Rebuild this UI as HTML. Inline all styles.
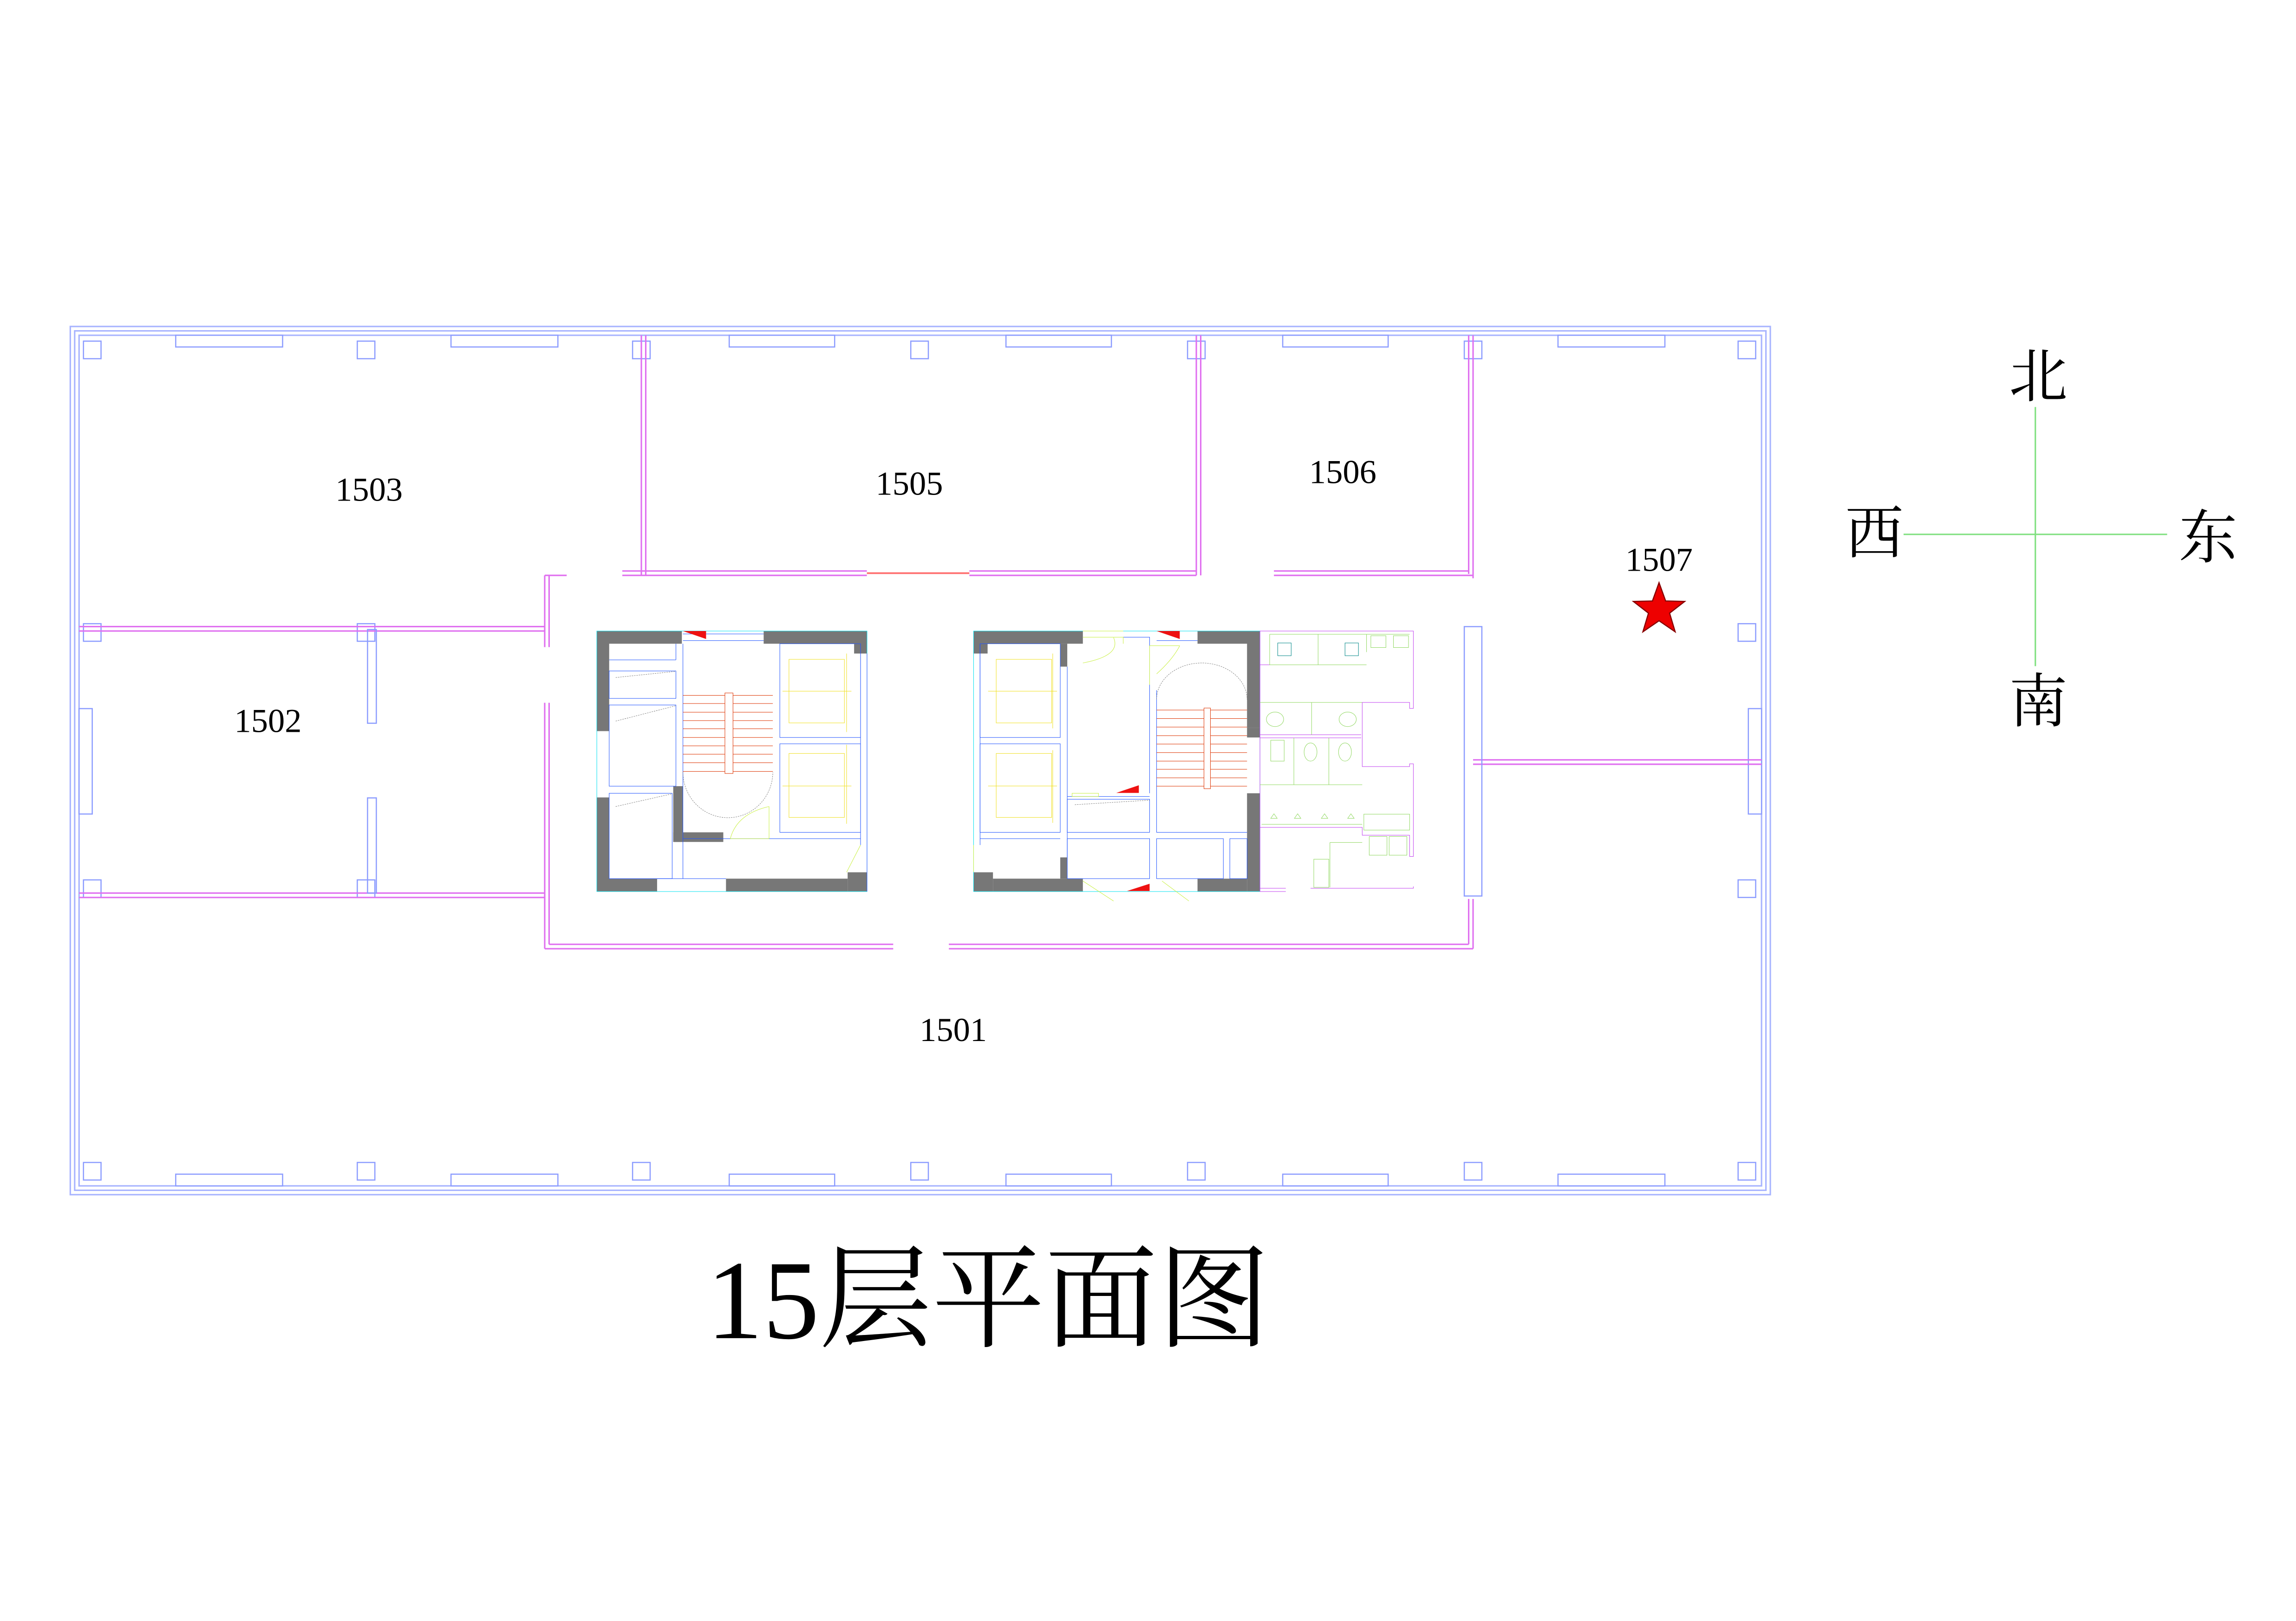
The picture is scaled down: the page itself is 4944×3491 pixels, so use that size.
<!DOCTYPE html>
<html><head><meta charset="utf-8"><style>
html,body{margin:0;padding:0;background:#fff;}
svg{display:block;}
text{font-family:"Liberation Serif","Noto Serif CJK SC",serif;fill:#000;}
</style></head><body>
<svg width="4944" height="3491" viewBox="0 0 1568 1107.2" preserveAspectRatio="none" xmlns="http://www.w3.org/2000/svg">
<rect width="1568" height="1107.2" fill="#fff"/>
<!-- outer building -->
<g fill="none" stroke="#a8b4ff" stroke-width="1">
<rect x="48" y="223" width="1161" height="593"/>
<rect x="51" y="226" width="1155" height="587"/>
<rect x="54" y="229" width="1149" height="581"/>
</g>
<!-- windows -->
<g fill="#fff" stroke="#8c9cff" stroke-width="0.8">
<rect x="120" y="229" width="73" height="8"/><rect x="308" y="229" width="73" height="8"/><rect x="498" y="229" width="72" height="8"/><rect x="687" y="229" width="72" height="8"/><rect x="876" y="229" width="72" height="8"/><rect x="1064" y="229" width="73" height="8"/>
<rect x="120" y="802" width="73" height="8"/><rect x="308" y="802" width="73" height="8"/><rect x="498" y="802" width="72" height="8"/><rect x="687" y="802" width="72" height="8"/><rect x="876" y="802" width="72" height="8"/><rect x="1064" y="802" width="73" height="8"/>
<rect x="54" y="484" width="9" height="72"/><rect x="1194" y="484" width="9" height="72"/>
</g>
<!-- columns -->
<g fill="#fff" stroke="#8c9cff" stroke-width="0.8">
<rect x="57" y="233" width="12" height="12"/><rect x="244" y="233" width="12" height="12"/><rect x="432" y="233" width="12" height="12"/><rect x="622" y="233" width="12" height="12"/><rect x="811" y="233" width="12" height="12"/><rect x="1000" y="233" width="12" height="12"/><rect x="1187" y="233" width="12" height="12"/>
<rect x="57" y="794" width="12" height="12"/><rect x="244" y="794" width="12" height="12"/><rect x="432" y="794" width="12" height="12"/><rect x="622" y="794" width="12" height="12"/><rect x="811" y="794" width="12" height="12"/><rect x="1000" y="794" width="12" height="12"/><rect x="1187" y="794" width="12" height="12"/>
<rect x="57" y="426" width="12" height="12"/><rect x="57" y="601" width="12" height="12"/><rect x="1187" y="426" width="12" height="12"/><rect x="1187" y="601" width="12" height="12"/>
<rect x="244" y="426" width="12" height="12"/><rect x="244" y="601" width="12" height="12"/>
</g>
<!-- partition walls magenta -->
<g fill="none" stroke="#e070f0" stroke-width="1">
<path d="M54 428H372M54 431H372"/>
<path d="M372 393V442M375 393V442M372 393H387"/>
<path d="M372 480V648M375 480V645"/>
<path d="M372 648H610M375 645H610"/>
<path d="M648 648H1006M648 645H1003"/>
<path d="M1006 614V648M1003 614V645"/>
<path d="M438 229V393M441 229V393"/>
<path d="M817 229V393M820 229V393"/>
<path d="M1006 229V395M1003 229V392"/>
<path d="M425 393H592M425 390H592M662 393H817M662 390H817"/>
<path d="M870 393H1006M870 390H1003"/>
<path d="M54 610H372M54 613H372"/>
<path d="M1006 519H1203M1006 522H1203"/>
</g>
<path d="M592 391.5H662" stroke="#ff7070" stroke-width="1.2"/>
<g fill="none" stroke="#8c9cff" stroke-width="0.8">
<rect x="251" y="430" width="6" height="64"/><rect x="251" y="545" width="6" height="65"/>
<rect x="1000" y="428" width="12" height="184"/>
</g>
<!-- cores -->
<g transform="translate(403.9,425.54) scale(0.3676,0.1241)">
<g fill="#777">
<rect x="10" y="44" width="158" height="70"/><rect x="10" y="44" width="23" height="551"/><rect x="10" y="960" width="23" height="518"/>
<rect x="320" y="44" width="192" height="70"/><rect x="488" y="44" width="24" height="124"/>
<rect x="10" y="1407" width="112" height="71"/><rect x="250" y="1407" width="226" height="71"/><rect x="476" y="1372" width="36" height="106"/>
<rect x="152" y="898" width="18" height="307"/><rect x="152" y="1152" width="93" height="53"/>
<rect x="710" y="44" width="203" height="70"/><rect x="710" y="44" width="26" height="124"/>
<rect x="1126" y="44" width="116" height="70"/><rect x="1218" y="44" width="24" height="534"/><rect x="1218" y="578" width="24" height="52"/><rect x="1218" y="937" width="24" height="541"/>
<rect x="710" y="1372" width="36" height="106"/><rect x="746" y="1407" width="167" height="71"/><rect x="1126" y="1407" width="92" height="71"/>
<rect x="871" y="114" width="13" height="126"/><rect x="871" y="1290" width="13" height="117"/>
</g>
<g fill="none" stroke="#00e0f0" stroke-width="1">
<rect x="10" y="44" width="502" height="1434" vector-effect="non-scaling-stroke"/>
<rect x="710" y="44" width="532" height="1434" vector-effect="non-scaling-stroke"/>
</g>
<g fill="none" stroke="#2255ff" stroke-width="1">
<rect x="350" y="114" width="150" height="516" vector-effect="non-scaling-stroke"/>
<rect x="350" y="665" width="150" height="487" vector-effect="non-scaling-stroke"/>
<rect x="33" y="264" width="124" height="151" vector-effect="non-scaling-stroke"/>
<rect x="33" y="451" width="124" height="447" vector-effect="non-scaling-stroke"/>
<rect x="33" y="937" width="117" height="470" vector-effect="non-scaling-stroke"/>
<path d="M33 203H157M157 114V203M170 1187H500M500 168V1222M512 168V1478M170 60H320M170 97H320M213 60H320M170 114V1407M122 1407H250" vector-effect="non-scaling-stroke"/>
<rect x="722" y="114" width="149" height="516" vector-effect="non-scaling-stroke"/>
<rect x="722" y="665" width="149" height="487" vector-effect="non-scaling-stroke"/>
<rect x="884" y="970" width="153" height="182" vector-effect="non-scaling-stroke"/>
<rect x="884" y="1187" width="153" height="220" vector-effect="non-scaling-stroke"/>
<rect x="1050" y="1187" width="124" height="220" vector-effect="non-scaling-stroke"/>
<rect x="1186" y="1187" width="32" height="220" vector-effect="non-scaling-stroke"/>
<path d="M722 1187H871M1050 370V1152H1218M988 78H1037V937M1050 97H1126M884 955H1037M884 240V1290M722 114V1222" vector-effect="non-scaling-stroke"/>
</g>
<g fill="none" stroke="#f0e020" stroke-width="1">
<rect x="367" y="200" width="103" height="350" vector-effect="non-scaling-stroke"/>
<rect x="367" y="718" width="103" height="352" vector-effect="non-scaling-stroke"/>
<rect x="752" y="200" width="103" height="350" vector-effect="non-scaling-stroke"/>
<rect x="752" y="718" width="103" height="352" vector-effect="non-scaling-stroke"/>
<path d="M355 375H483M355 897H483M737 375H865M737 897H865M474 168V600M474 670V1105M857 168V580M857 700V1100" vector-effect="non-scaling-stroke"/>
</g>
<g fill="none" stroke="#c8f040" stroke-width="1">
<path d="M330 1010V1187M258 1187H330M330 1010Q270 1050 258 1187M500 1222L474 1372M913 44H988M913 78H988V114M913 220Q985 180 970 80M1037 125H1093M1037 125V340M1050 280Q1080 200 1093 125M710 1370V1222M913 1420L970 1530M1060 1420L1110 1530M893 937H942V955H893Z" vector-effect="non-scaling-stroke"/>
</g>
<g stroke="#dd3300" stroke-width="1">
<path d="M170 398H337M170 443H337M170 491H337M170 537H337M170 582H337M170 630H337M170 676H337M170 722H337M170 769H337M170 817H337" vector-effect="non-scaling-stroke"/>
<path d="M1050 479H1218M1050 526H1218M1050 573H1218M1050 620H1218M1050 666H1218M1050 713H1218M1050 760H1218M1050 805H1218M1050 852H1218M1050 898H1218" vector-effect="non-scaling-stroke"/>
<rect x="248" y="385" width="15" height="443" fill="#fff" vector-effect="non-scaling-stroke"/>
<rect x="1138" y="468" width="12" height="444" fill="#fff" vector-effect="non-scaling-stroke"/>
</g>
<g fill="none" stroke="#666" stroke-width="0.8" stroke-dasharray="3 2">
<path d="M170 820A83 250 0 0 0 337 820" vector-effect="non-scaling-stroke"/>
<path d="M1050 420A84 200 0 0 1 1218 420" vector-effect="non-scaling-stroke"/>
<path d="M45 300L157 266M45 540L157 455M45 1010L150 940M898 1000L1037 975" vector-effect="non-scaling-stroke"/>
</g>
<g fill="#ee1111">
<path d="M170 44H213L213 88Z"/><path d="M1050 44H1093L1093 88Z"/><path d="M975 935L1017 893V935Z"/><path d="M995 1475L1037 1435V1475Z"/>
</g>
<g fill="none" stroke="#c040f0" stroke-width="1">
<path d="M1242 44H1527V470H1520V437H1432V790H1520V775H1527V1285H1520V1168H1432V1125H1242M1242 1460H1290M1336 1460H1527V1450M1242 44V1478H1290" vector-effect="non-scaling-stroke"/>
<path d="M1242 230H1260M1242 632H1430M1242 615H1430" vector-effect="non-scaling-stroke"/>
</g>
<g fill="none" stroke="#90d860" stroke-width="1">
<path d="M1260 62H1520M1260 62V230H1440M1350 62V230M1440 62V160M1242 437H1432M1338 437V615M1305 632V890M1370 632V890M1242 890H1432M1245 1108H1432M1435 1052H1520V1140H1435ZM1445 1175H1478V1278H1445ZM1482 1175H1515V1278H1482ZM1342 1300H1370V1455H1342ZM1372 1208H1432M1372 1208V1455" vector-effect="non-scaling-stroke"/>
<ellipse cx="1270" cy="530" rx="16" ry="40" vector-effect="non-scaling-stroke"/>
<ellipse cx="1405" cy="530" rx="16" ry="40" vector-effect="non-scaling-stroke"/>
<ellipse cx="1336" cy="710" rx="12" ry="50" vector-effect="non-scaling-stroke"/>
<ellipse cx="1400" cy="710" rx="12" ry="50" vector-effect="non-scaling-stroke"/>
<rect x="1262" y="645" width="25" height="115" vector-effect="non-scaling-stroke"/>
<rect x="1448" y="70" width="28" height="65" vector-effect="non-scaling-stroke"/>
<rect x="1490" y="70" width="28" height="65" vector-effect="non-scaling-stroke"/>
<path d="M1262 1075L1268 1050L1274 1075ZM1306 1075L1312 1050L1318 1075ZM1356 1075L1362 1050L1368 1075ZM1405 1075L1411 1050L1417 1075Z" vector-effect="non-scaling-stroke"/>
</g>
<g fill="none" stroke="#008888" stroke-width="1">
<path d="M1275 110H1300V180H1275ZM1400 110H1425V180H1400Z" vector-effect="non-scaling-stroke"/>
</g>
</g>
<!-- room labels -->
<g font-size="23" text-anchor="middle">
<text x="252" y="342">1503</text>
<text x="621" y="338">1505</text>
<text x="917" y="330">1506</text>
<text x="1133" y="390">1507</text>
<text x="183" y="500">1502</text>
<text x="651" y="711">1501</text>
</g>
<path d="M1133 398L1137.5 410.5L1150.5 410.8L1140.2 418.8L1144 431.5L1133 424L1122 431.5L1125.8 418.8L1115.5 410.8L1128.5 410.5Z" fill="#ee0000" stroke="#880000" stroke-width="0.8"/>
<g stroke="#80e080" stroke-width="1"><path d="M1390 278V455M1300 365H1480"/></g>
<g font-size="40" text-anchor="middle">
<text x="1392" y="271">北</text>
<text x="1280" y="378">西</text>
<text x="1508" y="381">东</text>
<text x="1392" y="493">南</text>
</g>
<text x="675" y="914" font-size="77" text-anchor="middle">15层平面图</text>
</svg>
</body></html>
